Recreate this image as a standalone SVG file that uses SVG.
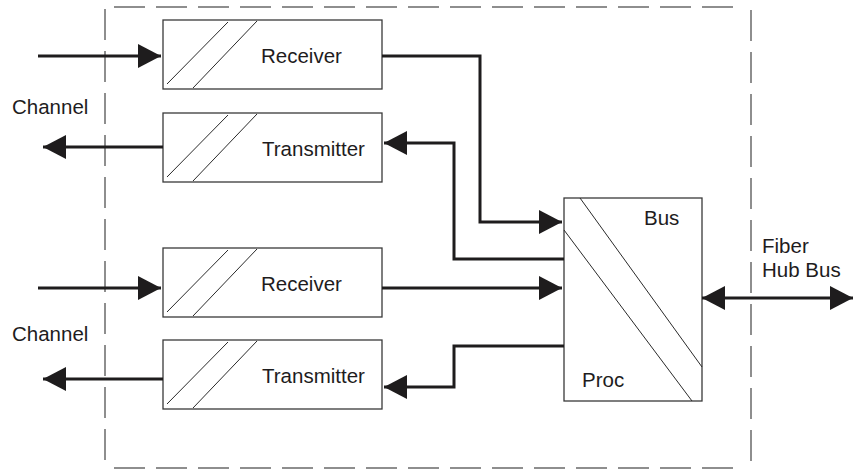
<svg xmlns="http://www.w3.org/2000/svg" width="855" height="469" viewBox="0 0 855 469">
<defs>
<marker id="ah" viewBox="0 0 23 24" refX="23" refY="12" markerWidth="23" markerHeight="24" markerUnits="userSpaceOnUse" orient="auto-start-reverse">
<path d="M0,0 L23,12 L0,24 Z" fill="#1e1c1d"/>
</marker>
</defs>
<style>
.bd{fill:none;stroke:#6a6a6a;stroke-width:1.5;stroke-dasharray:31 11}
.box{fill:#fff;stroke:#3a3a3a;stroke-width:1.3}
.dg{stroke:#2a2a2a;stroke-width:1}
.cn{fill:none;stroke:#1e1c1d;stroke-width:3;marker-end:url(#ah)}
.cs{fill:none;stroke:#1e1c1d;stroke-width:3;marker-end:url(#ah);marker-start:url(#ah)}
text{font-family:"Liberation Sans",Arial,sans-serif;font-size:20.5px;fill:#1e1c1d}
</style>
<g id="boundary">
<line class="bd" x1="114" y1="7" x2="744" y2="7"/>
<line class="bd" x1="105" y1="9" x2="105" y2="469"/>
<line class="bd" x1="751" y1="10" x2="751" y2="469"/>
<line class="bd" x1="114" y1="468" x2="744" y2="468"/>
</g>
<g id="receiver1">
<rect class="box" x="163" y="20" width="219" height="69"/>
<line class="dg" x1="167" y1="84" x2="228" y2="22"/>
<line class="dg" x1="193" y1="88" x2="257" y2="21"/>
<text x="261" y="63">Receiver</text>
</g>
<g id="transmitter1">
<rect class="box" x="163" y="113" width="219" height="69"/>
<line class="dg" x1="167" y1="177" x2="228" y2="115"/>
<line class="dg" x1="193" y1="181" x2="257" y2="114"/>
<text x="262" y="156">Transmitter</text>
</g>
<g id="receiver2">
<rect class="box" x="163" y="248" width="219" height="69"/>
<line class="dg" x1="167" y1="312" x2="228" y2="250"/>
<line class="dg" x1="193" y1="316" x2="257" y2="249"/>
<text x="261" y="291">Receiver</text>
</g>
<g id="transmitter2">
<rect class="box" x="163" y="340" width="219" height="69"/>
<line class="dg" x1="167" y1="404" x2="228" y2="342"/>
<line class="dg" x1="193" y1="408" x2="257" y2="341"/>
<text x="262" y="383">Transmitter</text>
</g>
<g id="proc">
<rect class="box" x="564" y="198" width="138" height="203"/>
<line class="dg" x1="580" y1="198" x2="702" y2="367"/>
<line class="dg" x1="564" y1="230" x2="692" y2="401"/>
<text x="644" y="225">Bus</text>
<text x="582" y="387">Proc</text>
</g>
<g id="labels">
<text x="12" y="114">Channel</text>
<text x="12" y="341">Channel</text>
<text x="762" y="253">Fiber</text>
<text x="762" y="277">Hub Bus</text>
</g>
<g id="connectors">
<path class="cn" d="M38,56 H161"/>
<path class="cn" d="M163,147 H43"/>
<path class="cn" d="M38,288 H161"/>
<path class="cn" d="M163,379 H43"/>
<path class="cn" d="M382,56 H480 V222 H562"/>
<path class="cn" d="M564,259 H454 V143 H384"/>
<path class="cn" d="M382,288 H562"/>
<path class="cn" d="M564,346 H454 V387 H384"/>
<path class="cs" d="M702,298 H853"/>
</g>
</svg>
